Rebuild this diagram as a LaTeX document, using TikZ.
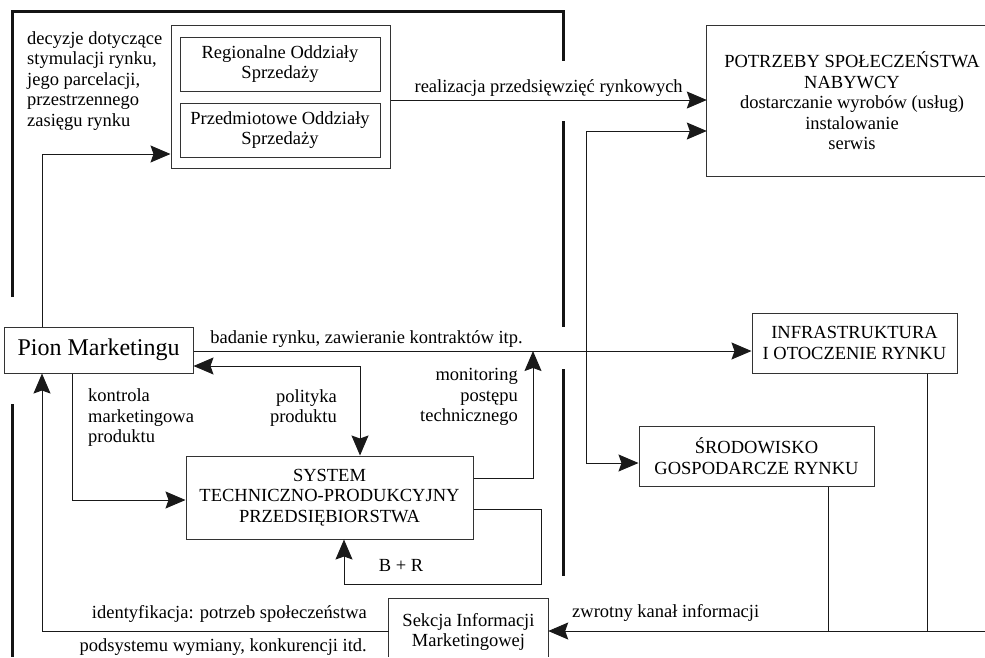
\documentclass[tikz,border=0pt]{standalone}
\usepackage{fontspec}
\setmainfont{Liberation Serif}
\usetikzlibrary{arrows.meta,calc}
\newcommand\dtxt{\fontsize{18.5}{20.5}\selectfont}
\newcommand\dbig{\fontsize{24}{28}\selectfont}
\begin{document}
\begin{tikzpicture}[x=1pt,y=-1pt,
  ln/.style={line width=1pt, draw=black!90},
  tip/.tip={Stealth[length=20pt,width=17pt,inset=3pt]},
  arr/.style={ln, -tip},
  arrs/.style={ln, tip-tip},
  box/.style={draw=black!80, line width=1pt, rectangle, inner sep=0pt, align=center, font=\dtxt},
  openbox/.style={draw=black!80, line width=1pt},
  plain/.style={inner sep=0pt, align=center, font=\dtxt},
  frame/.style={line width=3pt, draw=black!92},
  lbl/.style={inner sep=0pt, font=\dtxt}
]
\useasboundingbox (0,0) rectangle (985,657);

% enterprise boundary (thick)
\draw[frame] (12,297) -- (12,11) -- (563,11) -- (563,61);
\draw[frame] (563,121) -- (563,327);
\draw[frame] (563,369) -- (563,576);
\draw[frame] (12,404) -- (12,657);

% boxes
\node[box, minimum width=219pt, minimum height=143pt] (sales) at (280.5,96.5) {};
\node[box, minimum width=200pt, minimum height=54pt] (reg) at (280,64) {Regionalne Oddziały\\Sprzedaży};
\node[box, minimum width=200pt, minimum height=54pt] (przed) at (280,130) {Przedmiotowe Oddziały\\Sprzedaży};

\node[plain, minimum width=290pt, minimum height=150pt] (potrz) at (852,101)
  {POTRZEBY SPOŁECZEŃSTWA\\NABYWCY\\dostarczanie wyrobów (usług)\\instalowanie\\serwis};
\draw[openbox] (985,0 |- potrz.north) -- (potrz.north west) -- (potrz.south west) -- (985,0 |- potrz.south);

\node[box, font=\dbig, minimum width=189pt, minimum height=46pt] (pion) at (98.5,350) {Pion Marketingu};

\node[box, minimum width=205pt, minimum height=60pt] (infra) at (854.5,343) {INFRASTRUKTURA\\I OTOCZENIE RYNKU};
\node[box, minimum width=235pt, minimum height=60pt] (srod) at (756.5,456) {ŚRODOWISKO\\GOSPODARCZE RYNKU};

\node[box, minimum width=287pt, minimum height=83pt] (system) at (329.5,497.5) {SYSTEM\\TECHNICZNO-PRODUKCYJNY\\PRZEDSIĘBIORSTWA};

\node[plain, minimum width=159pt, minimum height=66pt] (sek) at (468.5,632) {Sekcja Informacji\\Marketingowej};
\draw[openbox] (sek.west |- 0,657) -- (sek.north west) -- (sek.north east) -- (sek.east |- 0,657);

% text labels
\node[lbl, anchor=west, align=left] (dec) at (27,81) {decyzje dotyczące\\stymulacji rynku,\\jego parcelacji,\\przestrzennego\\zasięgu rynku};
\node[lbl, anchor=west, align=left] (kon) at (88,418) {kontrola\\marketingowa\\produktu};
\node[lbl, anchor=east, align=right] (pol) at (337,408) {polityka\\produktu};
\node[lbl, anchor=east, align=right] (mon) at (518,397) {monitoring\\postępu\\technicznego};
\node[lbl] (br) at (401,565) {B + R};
\node[lbl, anchor=east] (ident) at (367,614) {identyfikacja: potrzeb społeczeństwa};
\node[lbl, anchor=east] (podsys) at (367,647) {podsystemu wymiany, konkurencji itd.};
\node[lbl, anchor=west] (zwrot) at (572,613) {zwrotny kanał informacji};

% free ends
\coordinate (monend) at (533,351);
\coordinate (redge) at (985,631);
\coordinate (j1) at (828,631);
\coordinate (j2) at (927,631);

% connectors
\draw[arr] (42,0 |- pion.north) |- (sales.west |- 0,154);
\draw[arr] (sales.east |- 0,100) -- node[midway, above, lbl, inner sep=3pt] {realizacja przedsięwzięć rynkowych} (potrz.west |- 0,100);
\draw[arrs] (potrz.west |- 0,131) -| (586,463) -- (srod.west |- 0,463);
\draw[arr] (pion.east |- 0,351) -- node[pos=0.31, above, lbl, inner sep=3pt] {badanie rynku, zawieranie kontraktów itp.} (infra.west |- 0,351);
\draw[arrs] (pion.east |- 0,366) -| (360,0 |- system.north);
\draw[arr] (72,0 |- pion.south) |- (system.west |- 0,500);
\draw[arr] (system.east |- 0,478) -| (monend);
\draw[arr] (system.east |- 0,509) -| (541,584) -| (344,0 |- system.south);
\draw[arr] (sek.west |- 0,631) -| (42,0 |- pion.south);
\draw[arr] (redge) -- (sek.east |- 0,631);
\draw[ln] (828,0 |- srod.south) -- (j1);
\draw[ln] (927,0 |- infra.south) -- (j2);
\end{tikzpicture}
\end{document}
